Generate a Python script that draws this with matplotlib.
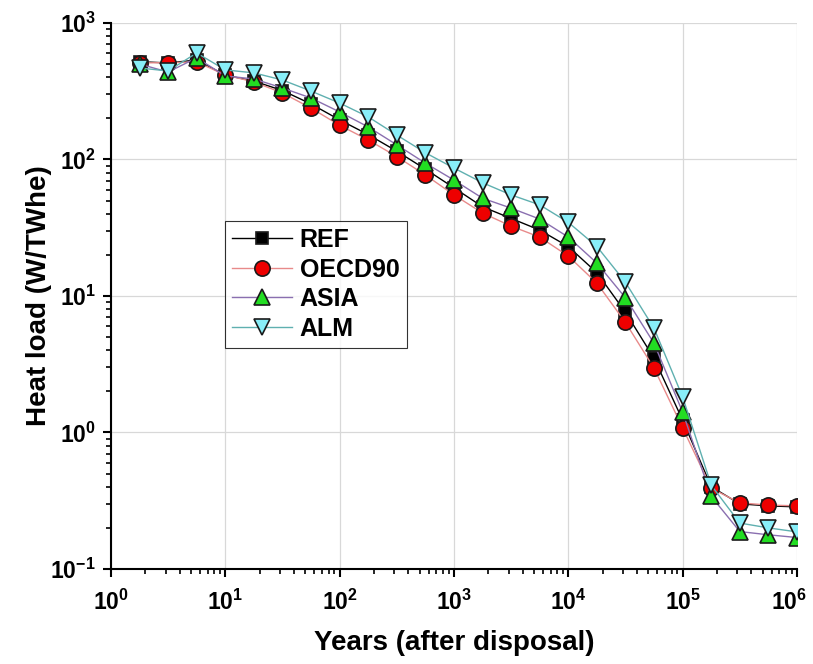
import numpy as np
import matplotlib

matplotlib.use("Agg")
import matplotlib.pyplot as plt
from matplotlib.ticker import LogLocator, NullFormatter
from matplotlib.transforms import ScaledTranslation

plt.rcParams["font.family"] = ["Liberation Sans", "DejaVu Sans"]
plt.rcParams["font.weight"] = "bold"
plt.rcParams["mathtext.fontset"] = "custom"
plt.rcParams["mathtext.rm"] = "Liberation Sans:bold"
plt.rcParams["mathtext.it"] = "Liberation Sans:bold"
plt.rcParams["mathtext.bf"] = "Liberation Sans:bold"

# years after disposal (quarter-decade steps)
years = [1.78, 3.16, 5.62, 10, 17.8, 31.6, 56.2, 100, 178, 316, 562, 1000,
         1780, 3160, 5620, 10000, 17800, 31600, 56200, 100000, 178000,
         316000, 562000, 1000000]

ref = [520, 510, 535, 415, 375, 320, 255, 195, 152, 115, 85, 62,
       45, 37, 30.4, 23, 14.8, 7.6, 3.5, 1.23, 0.40, 0.30, 0.29, 0.285]
oecd90 = [510, 512, 518, 416, 370, 307, 238, 178, 139, 105, 77, 55,
          40.5, 32.5, 27, 19.6, 12.4, 6.4, 2.96, 1.08, 0.39, 0.305, 0.294, 0.29]
asia = [500, 437, 555, 409, 389, 334, 282, 223, 173, 128, 94, 70.6,
        52, 44, 36.6, 27, 17.4, 9.7, 4.5, 1.41, 0.34, 0.188, 0.178, 0.17]
alm = [468, 445, 603, 453, 431, 382, 317, 259, 205, 151, 112, 86.5,
       67.5, 55, 46.5, 34.6, 23, 12.6, 5.8, 1.82, 0.41, 0.217, 0.20, 0.187]

x_ticks = [1, 10, 100, 1e3, 1e4, 1e5, 1e6]
y_ticks = [0.1, 1, 10, 100, 1000]

series = [
    ("REF", ref, "black", "s", "black", 9),
    ("OECD90", oecd90, "#e88a8a", "o", "#ee0000", 11),
    ("ASIA", asia, "#8a6fb0", "^", "#22dd22", 12),
    ("ALM", alm, "#5fb0b0", "v", "#88eef8", 12),
]

fig = plt.figure(figsize=(8.13, 6.64), dpi=100)
ax = fig.add_axes([0.1365, 0.1431, 0.8438, 0.8223])

for name, vals, lc, mk, fc, ms in series:
    ax.plot(years, vals, color=lc, lw=1.0, marker=mk, markersize=ms,
            markerfacecolor=fc, markeredgecolor="#1a1a1a", markeredgewidth=1.2,
            label=name)

ax.set_xscale("log")
ax.set_yscale("log")
ax.set_xticks(x_ticks)
ax.set_yticks(y_ticks)
ax.set_xlim(1, 1e6)
ax.set_ylim(0.1, 1000)

ax.grid(True, which="major", color="#d8d8d8", lw=0.9)
ax.set_axisbelow(True)
for s in ("top", "right"):
    ax.spines[s].set_visible(False)
for s in ("left", "bottom"):
    ax.spines[s].set_linewidth(1.5)

ax.xaxis.set_minor_locator(LogLocator(base=10, subs=np.arange(2, 10), numticks=20))
ax.yaxis.set_minor_locator(LogLocator(base=10, subs=np.arange(2, 10), numticks=20))
ax.xaxis.set_minor_formatter(NullFormatter())
ax.yaxis.set_minor_formatter(NullFormatter())
ax.tick_params(which="major", direction="out", length=6, width=1.5,
               labelsize=16.5, pad=5)
ax.tick_params(axis="x", which="major", pad=9)
ax.tick_params(which="minor", direction="out", length=3.5, width=1.2)

ax.set_xlabel("Years (after disposal)", fontsize=20, fontweight="bold")
ax.set_ylabel("Heat load (W/TWhe)", fontsize=20, fontweight="bold")
ax.xaxis.set_label_coords(0.5, -0.136)
ax.xaxis.label.set_va("center")
ax.yaxis.set_label_coords(-0.105, 0.5)
ax.yaxis.label.set_va("center")

leg = ax.legend(loc="upper left", bbox_to_anchor=(0.166, 0.638), fontsize=18,
                frameon=True, fancybox=False, edgecolor="black",
                borderpad=0.3, labelspacing=0.22, handlelength=2.4,
                handletextpad=0.3, borderaxespad=0)
leg.get_frame().set_linewidth(0.8)
for t in leg.get_texts():
    t.set_fontweight("bold")

# keep the last x label inside the canvas, as in the original
fig.canvas.draw()
for tick in ax.xaxis.get_major_ticks():
    if abs(tick.get_loc() - 1e6) < 1:
        lab = tick.label1
        lab.set_transform(lab.get_transform()
                          + ScaledTranslation(-6 / 72, 0, fig.dpi_scale_trans))

fig.savefig("out.png", dpi=100)
